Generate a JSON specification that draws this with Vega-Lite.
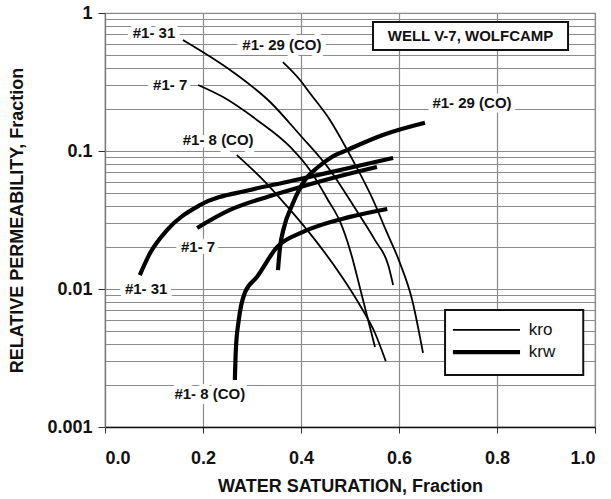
{
  "$schema": "https://vega.github.io/schema/vega-lite/v6.json",
  "width": 490,
  "height": 414,
  "autosize": {"type": "none"},
  "padding": {"left": 105, "top": 13, "right": 16, "bottom": 72},
  "background": "white",
  "config": {
    "font": "Liberation Sans",
    "view": {"stroke": "#888888", "strokeWidth": 1.2},
    "axis": {
      "labelFont": "Liberation Sans",
      "labelFontWeight": "bold",
      "labelFontSize": 18,
      "labelColor": "#111111",
      "titleFont": "Liberation Sans",
      "titleFontWeight": "bold",
      "titleFontSize": 18,
      "titleColor": "#111111",
      "gridColor": "#8a8a8a",
      "gridWidth": 1.2,
      "gridOpacity": 1,
      "tickColor": "#333333"
    }
  },
  "datasets": {
    "curves": [
      {"sample": "#1-31", "kind": "kro", "sw": 0.159, "kr": 0.637},
      {"sample": "#1-31", "kind": "kro", "sw": 0.261, "kr": 0.3736},
      {"sample": "#1-31", "kind": "kro", "sw": 0.337, "kr": 0.2265},
      {"sample": "#1-31", "kind": "kro", "sw": 0.398, "kr": 0.1306},
      {"sample": "#1-31", "kind": "kro", "sw": 0.459, "kr": 0.0728},
      {"sample": "#1-31", "kind": "kro", "sw": 0.51, "kr": 0.0386},
      {"sample": "#1-31", "kind": "kro", "sw": 0.551, "kr": 0.0226},
      {"sample": "#1-31", "kind": "kro", "sw": 0.578, "kr": 0.0149},
      {"sample": "#1-31", "kind": "kro", "sw": 0.588, "kr": 0.0107},

      {"sample": "#1-29", "kind": "kro", "sw": 0.363, "kr": 0.441},
      {"sample": "#1-29", "kind": "kro", "sw": 0.398, "kr": 0.327},
      {"sample": "#1-29", "kind": "kro", "sw": 0.418, "kr": 0.263},
      {"sample": "#1-29", "kind": "kro", "sw": 0.459, "kr": 0.168},
      {"sample": "#1-29", "kind": "kro", "sw": 0.5, "kr": 0.0935},
      {"sample": "#1-29", "kind": "kro", "sw": 0.547, "kr": 0.0442},
      {"sample": "#1-29", "kind": "kro", "sw": 0.573, "kr": 0.0268},
      {"sample": "#1-29", "kind": "kro", "sw": 0.602, "kr": 0.0154},
      {"sample": "#1-29", "kind": "kro", "sw": 0.627, "kr": 0.0083},
      {"sample": "#1-29", "kind": "kro", "sw": 0.649, "kr": 0.00344},

      {"sample": "#1-7", "kind": "kro", "sw": 0.19, "kr": 0.301},
      {"sample": "#1-7", "kind": "kro", "sw": 0.241, "kr": 0.246},
      {"sample": "#1-7", "kind": "kro", "sw": 0.31, "kr": 0.168},
      {"sample": "#1-7", "kind": "kro", "sw": 0.378, "kr": 0.107},
      {"sample": "#1-7", "kind": "kro", "sw": 0.418, "kr": 0.0728},
      {"sample": "#1-7", "kind": "kro", "sw": 0.455, "kr": 0.0442},
      {"sample": "#1-7", "kind": "kro", "sw": 0.48, "kr": 0.0306},
      {"sample": "#1-7", "kind": "kro", "sw": 0.5, "kr": 0.0192},
      {"sample": "#1-7", "kind": "kro", "sw": 0.524, "kr": 0.00905},
      {"sample": "#1-7", "kind": "kro", "sw": 0.551, "kr": 0.0038},

      {"sample": "#1-8", "kind": "kro", "sw": 0.269, "kr": 0.0935},
      {"sample": "#1-8", "kind": "kro", "sw": 0.327, "kr": 0.0596},
      {"sample": "#1-8", "kind": "kro", "sw": 0.378, "kr": 0.0374},
      {"sample": "#1-8", "kind": "kro", "sw": 0.429, "kr": 0.0226},
      {"sample": "#1-8", "kind": "kro", "sw": 0.48, "kr": 0.0128},
      {"sample": "#1-8", "kind": "kro", "sw": 0.52, "kr": 0.00766},
      {"sample": "#1-8", "kind": "kro", "sw": 0.551, "kr": 0.0048},
      {"sample": "#1-8", "kind": "kro", "sw": 0.573, "kr": 0.003},

      {"sample": "#1-31", "kind": "krw", "sw": 0.071, "kr": 0.0126},
      {"sample": "#1-31", "kind": "krw", "sw": 0.092, "kr": 0.0182},
      {"sample": "#1-31", "kind": "krw", "sw": 0.127, "kr": 0.0268},
      {"sample": "#1-31", "kind": "krw", "sw": 0.194, "kr": 0.0406},
      {"sample": "#1-31", "kind": "krw", "sw": 0.296, "kr": 0.0522},
      {"sample": "#1-31", "kind": "krw", "sw": 0.371, "kr": 0.0596},
      {"sample": "#1-31", "kind": "krw", "sw": 0.48, "kr": 0.0728},
      {"sample": "#1-31", "kind": "krw", "sw": 0.588, "kr": 0.089},

      {"sample": "#1-7", "kind": "krw", "sw": 0.188, "kr": 0.0277},
      {"sample": "#1-7", "kind": "krw", "sw": 0.255, "kr": 0.0374},
      {"sample": "#1-7", "kind": "krw", "sw": 0.337, "kr": 0.0472},
      {"sample": "#1-7", "kind": "krw", "sw": 0.392, "kr": 0.054},
      {"sample": "#1-7", "kind": "krw", "sw": 0.48, "kr": 0.0659},
      {"sample": "#1-7", "kind": "krw", "sw": 0.555, "kr": 0.0766},

      {"sample": "#1-8", "kind": "krw", "sw": 0.265, "kr": 0.00219},
      {"sample": "#1-8", "kind": "krw", "sw": 0.267, "kr": 0.00361},
      {"sample": "#1-8", "kind": "krw", "sw": 0.273, "kr": 0.00596},
      {"sample": "#1-8", "kind": "krw", "sw": 0.286, "kr": 0.0095},
      {"sample": "#1-8", "kind": "krw", "sw": 0.31, "kr": 0.0122},
      {"sample": "#1-8", "kind": "krw", "sw": 0.351, "kr": 0.0201},
      {"sample": "#1-8", "kind": "krw", "sw": 0.404, "kr": 0.0259},
      {"sample": "#1-8", "kind": "krw", "sw": 0.5, "kr": 0.0333},
      {"sample": "#1-8", "kind": "krw", "sw": 0.576, "kr": 0.038},

      {"sample": "#1-29", "kind": "krw", "sw": 0.353, "kr": 0.0137},
      {"sample": "#1-29", "kind": "krw", "sw": 0.357, "kr": 0.0198},
      {"sample": "#1-29", "kind": "krw", "sw": 0.365, "kr": 0.0277},
      {"sample": "#1-29", "kind": "krw", "sw": 0.382, "kr": 0.0406},
      {"sample": "#1-29", "kind": "krw", "sw": 0.408, "kr": 0.0616},
      {"sample": "#1-29", "kind": "krw", "sw": 0.435, "kr": 0.0766},
      {"sample": "#1-29", "kind": "krw", "sw": 0.463, "kr": 0.0905},
      {"sample": "#1-29", "kind": "krw", "sw": 0.494, "kr": 0.1016},
      {"sample": "#1-29", "kind": "krw", "sw": 0.567, "kr": 0.1306},
      {"sample": "#1-29", "kind": "krw", "sw": 0.653, "kr": 0.16}
    ],
    "labels": [
      {"sw": 0.1, "kr": 0.716, "text": "#1- 31"},
      {"sw": 0.361, "kr": 0.586, "text": "#1- 29 (CO)"},
      {"sw": 0.133, "kr": 0.301, "text": "#1- 7"},
      {"sw": 0.231, "kr": 0.12, "text": "#1- 8 (CO)"},
      {"sw": 0.19, "kr": 0.0201, "text": "#1- 7"},
      {"sw": 0.084, "kr": 0.01, "text": "#1- 31"},
      {"sw": 0.214, "kr": 0.00173, "text": "#1- 8 (CO)"},
      {"sw": 0.749, "kr": 0.223, "text": "#1- 29 (CO)"}
    ],
    "wellbox": [
      {"sw": 0.547, "sw2": 0.945, "kr": 0.861, "kr2": 0.539, "mid": 0.746, "krmid": 0.681, "text": "WELL V-7, WOLFCAMP"}
    ],
    "keybox": [
      {"sw": 0.694, "sw2": 0.976, "kr": 0.00705, "kr2": 0.00238}
    ],
    "keys": [
      {"kind": "kro", "sw": 0.71, "sw2": 0.847, "kr": 0.00505, "tx": 0.865},
      {"kind": "krw", "sw": 0.71, "sw2": 0.847, "kr": 0.00349, "tx": 0.865}
    ]
  },
  "layer": [
    {
      "data": {"name": "curves"},
      "mark": {"type": "line", "color": "black", "interpolate": "monotone", "strokeCap": "butt"},
      "encoding": {
        "x": {
          "field": "sw",
          "type": "quantitative",
          "scale": {"domain": [0, 1], "nice": false, "zero": false},
          "axis": {
            "title": "WATER SATURATION, Fraction",
            "values": [0, 0.2, 0.4, 0.6, 0.8, 1],
            "format": ".1f",
            "grid": true,
            "tickSize": 6,
            "labelPadding": 16,
            "titlePadding": 10,
            "domainColor": "#111111",
            "domainWidth": 1.5
          }
        },
        "y": {
          "field": "kr",
          "type": "quantitative",
          "scale": {"type": "log", "domain": [0.001, 1], "nice": false},
          "axis": {
            "title": "RELATIVE PERMEABILITY, Fraction",
            "values": [0.001, 0.002, 0.003, 0.004, 0.005, 0.006, 0.007, 0.008, 0.009,
                       0.01, 0.02, 0.03, 0.04, 0.05, 0.06, 0.07, 0.08, 0.09,
                       0.1, 0.2, 0.3, 0.4, 0.5, 0.6, 0.7, 0.8, 0.9, 1],
            "labelExpr": "abs(log(datum.value)/LN10 - round(log(datum.value)/LN10)) < 0.001 ? datum.label : ''",
            "tickOpacity": {
              "condition": {"test": "abs(log(datum.value)/LN10 - round(log(datum.value)/LN10)) < 0.001", "value": 1},
              "value": 0
            },
            "grid": true,
            "tickSize": 7,
            "labelPadding": 6,
            "titlePadding": 20,
            "domainColor": "#777777",
            "domainWidth": 1.2
          }
        },
        "detail": {"field": "sample"},
        "strokeWidth": {
          "field": "kind",
          "type": "nominal",
          "scale": {"domain": ["kro", "krw"], "range": [1.8, 4.2]},
          "legend": null
        }
      }
    },
    {
      "data": {"name": "labels"},
      "mark": {"type": "text", "fontSize": 15, "fontWeight": "bold", "font": "Liberation Sans", "stroke": "white", "strokeWidth": 10, "strokeJoin": "round", "align": "center", "baseline": "middle"},
      "encoding": {
        "x": {"field": "sw", "type": "quantitative"},
        "y": {"field": "kr", "type": "quantitative"},
        "text": {"field": "text"}
      }
    },
    {
      "data": {"name": "labels"},
      "mark": {"type": "text", "fontSize": 15, "fontWeight": "bold", "font": "Liberation Sans", "color": "#111111", "align": "center", "baseline": "middle"},
      "encoding": {
        "x": {"field": "sw", "type": "quantitative"},
        "y": {"field": "kr", "type": "quantitative"},
        "text": {"field": "text"}
      }
    },
    {
      "data": {"name": "wellbox"},
      "mark": {"type": "rect", "fill": "white", "stroke": "#111111", "strokeWidth": 2},
      "encoding": {
        "x": {"field": "sw", "type": "quantitative"},
        "x2": {"field": "sw2"},
        "y": {"field": "kr", "type": "quantitative"},
        "y2": {"field": "kr2"}
      }
    },
    {
      "data": {"name": "wellbox"},
      "mark": {"type": "text", "fontSize": 15, "fontWeight": "bold", "font": "Liberation Sans", "color": "#111111", "align": "center", "baseline": "middle"},
      "encoding": {
        "x": {"field": "mid", "type": "quantitative"},
        "y": {"field": "krmid", "type": "quantitative"},
        "text": {"field": "text"}
      }
    },
    {
      "data": {"name": "keybox"},
      "mark": {"type": "rect", "fill": "white", "stroke": "#111111", "strokeWidth": 2},
      "encoding": {
        "x": {"field": "sw", "type": "quantitative"},
        "x2": {"field": "sw2"},
        "y": {"field": "kr", "type": "quantitative"},
        "y2": {"field": "kr2"}
      }
    },
    {
      "data": {"name": "keys"},
      "mark": {"type": "rule", "color": "black", "strokeCap": "butt"},
      "encoding": {
        "x": {"field": "sw", "type": "quantitative"},
        "x2": {"field": "sw2"},
        "y": {"field": "kr", "type": "quantitative"},
        "strokeWidth": {"field": "kind", "type": "nominal", "legend": null}
      }
    },
    {
      "data": {"name": "keys"},
      "mark": {"type": "text", "fontSize": 17, "font": "Liberation Sans", "color": "#111111", "align": "left", "baseline": "middle"},
      "encoding": {
        "x": {"field": "tx", "type": "quantitative"},
        "y": {"field": "kr", "type": "quantitative"},
        "text": {"field": "kind"}
      }
    }
  ]
}
